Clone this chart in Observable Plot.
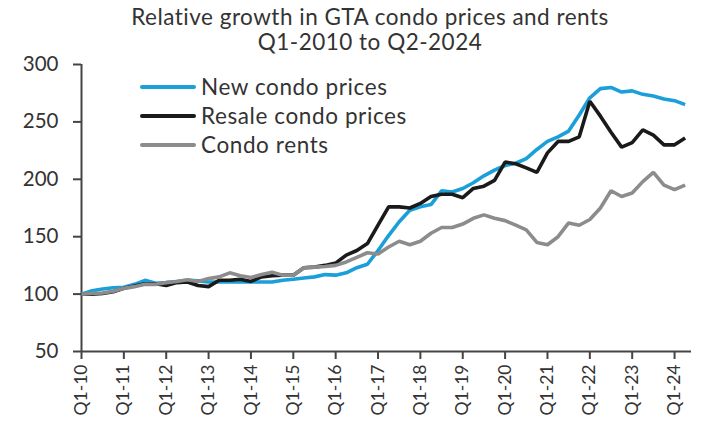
<!DOCTYPE html>
<html>
<head>
<meta charset="utf-8">
<script src="https://cdn.jsdelivr.net/npm/d3@7"></script>
<script src="https://cdn.jsdelivr.net/npm/@observablehq/plot@0.6"></script>
<style>
  html, body { margin: 0; padding: 0; background: #fff; overflow: hidden; }
  #wrap { position: relative; width: 701px; height: 428px; font-family: Lato, "Open Sans", sans-serif; color: #333; }
  #title { position: absolute; left: 20px; top: 4px; width: 700px; text-align: center; font-size: 22.5px; letter-spacing: 0.5px; line-height: 25px; color: #333; z-index: 2; }
  #chart { position: absolute; left: 0; top: 48px; z-index: 1; }
  #legend { position: absolute; left: 140px; top: 72px; z-index: 3; }
  .row { display: flex; align-items: center; height: 29px; font-size: 22.5px; letter-spacing: 0.6px; color: #333; }
  .sw { width: 56px; height: 4px; border-radius: 2px; margin-right: 5px; }
</style>
</head>
<body>
<div id="wrap">
  <div id="title">Relative growth in GTA condo prices and rents<br>Q1-2010 to Q2-2024</div>
  <div id="chart"></div>
  <div id="legend"></div>
</div>
<script>
const quarters = [
  "Q1-10","Q2-10","Q3-10","Q4-10","Q1-11","Q2-11","Q3-11","Q4-11",
  "Q1-12","Q2-12","Q3-12","Q4-12","Q1-13","Q2-13","Q3-13","Q4-13",
  "Q1-14","Q2-14","Q3-14","Q4-14","Q1-15","Q2-15","Q3-15","Q4-15",
  "Q1-16","Q2-16","Q3-16","Q4-16","Q1-17","Q2-17","Q3-17","Q4-17",
  "Q1-18","Q2-18","Q3-18","Q4-18","Q1-19","Q2-19","Q3-19","Q4-19",
  "Q1-20","Q2-20","Q3-20","Q4-20","Q1-21","Q2-21","Q3-21","Q4-21",
  "Q1-22","Q2-22","Q3-22","Q4-22","Q1-23","Q2-23","Q3-23","Q4-23",
  "Q1-24","Q2-24"
];
const tickLabels = ["Q1-10","Q1-11","Q1-12","Q1-13","Q1-14","Q1-15","Q1-16","Q1-17",
  "Q1-18","Q1-19","Q1-20","Q1-21","Q1-22","Q1-23","Q1-24"];
const yTicks = [50, 100, 150, 200, 250, 300];

const seriesNames = ["New condo prices", "Resale condo prices", "Condo rents"];
const seriesColors = ["#1a9fd9", "#1a1a1a", "#8c8c8c"];

const newCondo = [
  100, 103, 104.5, 105.5, 106, 108.5, 112, 109.5,
  110, 111, 112, 111.5, 110.5, 110.5, 110.5, 110.5,
  110.5, 110.5, 110.5, 112, 113, 114, 115, 117,
  116.5, 118.5, 123, 126, 138, 151, 163, 173,
  176, 178, 190, 189, 192, 197, 203, 208,
  212, 214, 218, 226, 233, 237, 242, 256,
  271, 279, 280, 276, 277, 274, 272.5, 270,
  268.5, 265
];
const resale = [
  100, 100, 100.5, 102, 105, 107, 109, 109,
  107.5, 110, 110.5, 107.5, 106.5, 112, 112, 113,
  111, 115, 116, 116.5, 116.5, 123, 123.5, 125,
  127, 134, 138, 144, 160, 176, 176, 175,
  179, 185, 187, 187, 184, 192, 194, 199,
  215, 213.5, 210, 206, 223, 233, 233, 237,
  268, 255, 241, 228, 232, 243, 238.5, 230,
  230, 236
];
const rents = [
  100, 100.5, 101, 102.5, 105, 106.5, 108.5, 108.5,
  110, 111, 112.5, 111, 113.5, 115, 118.5, 116,
  114.5, 117, 119, 116.5, 116.5, 123, 123.5, 124,
  125, 128, 132, 136, 135, 141, 146, 143,
  146, 153, 158, 158, 161, 166, 169, 166,
  164, 160, 156, 145, 143, 150, 162, 160,
  165, 175, 190, 185, 188, 198, 206, 195,
  191, 195
];

const seriesValues = [newCondo, resale, rents];
const data = seriesNames.flatMap((name, s) =>
  seriesValues[s].map((v, i) => ({series: name, i, q: quarters[i], value: v}))
);

const tickIdx = tickLabels.map(l => quarters.indexOf(l));

const chart = Plot.plot({
  width: 701,
  height: 380,
  marginLeft: 81,
  marginRight: 10,
  marginTop: 16,
  marginBottom: 77,
  style: {fontFamily: "Lato, 'Open Sans', sans-serif", color: "#333", background: "transparent", overflow: "visible"},
  x: {domain: [0, 57.6], label: null},
  y: {domain: [50, 300], label: null},
  color: {domain: seriesNames, range: seriesColors},
  marks: [
    Plot.axisY({ticks: yTicks, tickSize: 8, tickPadding: 15, fontSize: 20.5, strokeWidth: 2, stroke: "#444", label: null}),
    Plot.axisX({ticks: tickIdx, tickFormat: i => quarters[i], tickRotate: -90, tickSize: 8, tickPadding: 5, fontSize: 17.5, strokeWidth: 2, stroke: "#444", label: null}),
    Plot.ruleX([0], {stroke: "#444", strokeWidth: 2}),
    Plot.ruleY([50], {stroke: "#444", strokeWidth: 2}),
    Plot.line(data, {x: "i", y: "value", stroke: "series", z: "series", strokeWidth: 3.6, strokeLinejoin: "miter", strokeLinecap: "butt"})
  ]
});
document.getElementById("chart").appendChild(chart);

const legend = document.getElementById("legend");
seriesNames.forEach((name, s) => {
  const row = document.createElement("div");
  row.className = "row";
  const sw = document.createElement("div");
  sw.className = "sw";
  sw.style.background = seriesColors[s];
  const label = document.createElement("span");
  label.textContent = name;
  row.appendChild(sw);
  row.appendChild(label);
  legend.appendChild(row);
});
</script>
</body>
</html>
